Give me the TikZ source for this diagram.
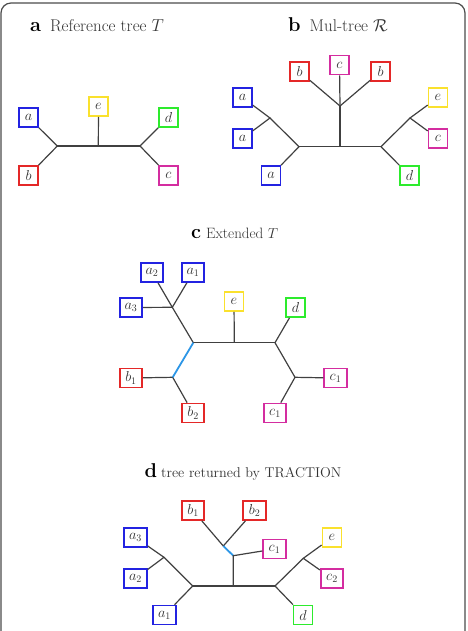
\documentclass[tikz,border=0pt]{standalone}
\usepackage{xcolor}
\definecolor{leafblue}{RGB}{35,35,225}
\definecolor{leafred}{RGB}{228,40,40}
\definecolor{leafyellow}{RGB}{250,225,45}
\definecolor{leafgreen}{RGB}{45,235,45}
\definecolor{leafmagenta}{RGB}{212,45,160}
\definecolor{edgeblue}{RGB}{45,150,230}

\begin{document}
\begin{tikzpicture}[
  x=1pt,y=-1pt,
  frame/.style={draw=black!70,line width=1.2pt,rounded corners=10pt},
  title/.style={anchor=base west,inner sep=0pt,text=black!80},
  leaf/.style={draw=#1,line width=1.7pt,fill=white,minimum size=19pt,inner sep=0.5pt,
    text=black!80,font=\fontsize{14}{16}\selectfont},
  wide leaf/.style={leaf=#1,minimum width=22.5pt},
  branch/.style={draw=black!75,line width=1.2pt},
  moved branch/.style={branch,draw=edgeblue,line width=1.8pt}
]
\useasboundingbox (0,0) rectangle (467,631);
\begin{scope}
\clip (0,0) rectangle (467,631);
\draw[frame] (1,3) rectangle (465,660);
\end{scope}

% a: reference tree
\node[title,font=\fontsize{17}{20}\selectfont] (titleA) at (30,32)
  {\textcolor{black}{\fontsize{20}{24}\selectfont\bfseries a}\hspace{9pt}Reference tree $T$};
\coordinate (A-l) at (57.3,146);
\coordinate (A-m) at (98.3,146);
\coordinate (A-r) at (140,146);
\node[leaf=leafblue] (A-a) at (28.5,117.5) {$a$};
\node[leaf=leafred] (A-b) at (28.5,175.5) {$b$};
\node[leaf=leafyellow] (A-e) at (98.5,106.5) {$e$};
\node[leaf=leafgreen] (A-d) at (168.5,117.5) {$d$};
\node[leaf=leafmagenta] (A-c) at (168.5,175.5) {$c$};
\draw[branch] (A-a) -- (A-l) -- (A-b);
\draw[branch] (A-l) -- (A-r);
\draw[branch] (A-m) -- (A-e);
\draw[branch] (A-d) -- (A-r) -- (A-c);

% b: mul-tree
\node[title,font=\fontsize{17}{20}\selectfont] (titleB) at (288,32)
  {\textcolor{black}{\fontsize{20}{24}\selectfont\bfseries b}\hspace{9pt}Mul-tree $\mathcal{R}$};
\coordinate (B-t) at (340,106);
\coordinate (B-lu) at (270,118);
\coordinate (B-l) at (299,146.7);
\coordinate (B-m) at (340,146.7);
\coordinate (B-r) at (381,146.7);
\coordinate (B-ru) at (410,118);
\node[leaf=leafred] (B-b1) at (299.5,71.5) {$b$};
\node[leaf=leafmagenta] (B-c1) at (339.5,65) {$c$};
\node[leaf=leafred] (B-b2) at (380.5,71.5) {$b$};
\node[leaf=leafblue] (B-a1) at (242.5,97.5) {$a$};
\node[leaf=leafblue] (B-a2) at (242.5,138.5) {$a$};
\node[leaf=leafblue] (B-a3) at (271,175.5) {$a$};
\node[leaf=leafyellow] (B-e) at (438,97.5) {$e$};
\node[leaf=leafmagenta] (B-c2) at (438,138.5) {$c$};
\node[leaf=leafgreen] (B-d) at (409.5,175.5) {$d$};
\draw[branch] (B-a1) -- (B-lu) -- (B-a2);
\draw[branch] (B-lu) -- (B-l) -- (B-a3);
\draw[branch] (B-l) -- (B-r);
\draw[branch] (B-m) -- (B-t);
\draw[branch] (B-b1) -- (B-t) -- (B-b2);
\draw[branch] (B-t) -- (B-c1);
\draw[branch] (B-r) -- (B-ru);
\draw[branch] (B-e) -- (B-ru) -- (B-c2);
\draw[branch] (B-r) -- (B-d);

% c: extended tree
\node[title,font=\fontsize{15}{18}\selectfont] (titleC) at (191,238)
  {\textcolor{black}{\fontsize{20}{24}\selectfont\bfseries c}\hspace{5pt}Extended $T$};
\coordinate (C-ia) at (172.3,307.3);
\coordinate (C-l) at (193.3,342.7);
\coordinate (C-m) at (234.3,342.7);
\coordinate (C-r) at (275,342.7);
\coordinate (C-ib) at (172.7,377.3);
\coordinate (C-ic) at (295,377.3);
\node[wide leaf=leafblue] (C-a2) at (152,272.5) {$a_2$};
\node[wide leaf=leafblue] (C-a1) at (193,272.5) {$a_1$};
\node[wide leaf=leafblue] (C-a3) at (131,307.5) {$a_3$};
\node[leaf=leafyellow] (C-e) at (234,301.5) {$e$};
\node[leaf=leafgreen] (C-d) at (295.5,307.5) {$d$};
\node[wide leaf=leafred] (C-b1) at (131,378) {$b_1$};
\node[wide leaf=leafred] (C-b2) at (193,413) {$b_2$};
\node[wide leaf=leafmagenta] (C-c1) at (335.5,378) {$c_1$};
\node[wide leaf=leafmagenta] (C-c2) at (275,413) {$c_1$};
\draw[branch] (C-a2) -- (C-ia) -- (C-a1);
\draw[branch] (C-a3) -- (C-ia) -- (C-l);
\draw[branch] (C-l) -- (C-r);
\draw[branch] (C-m) -- (C-e);
\draw[branch] (C-r) -- (C-d);
\draw[branch] (C-r) -- (C-ic) -- (C-c1);
\draw[branch] (C-ic) -- (C-c2);
\draw[branch] (C-b1) -- (C-ib) -- (C-b2);
\draw[moved branch] (C-l) -- (C-ib);

% d: tree returned by TRACTION
\node[title,font=\fontsize{14.2}{17}\selectfont] (titleD) at (144.5,477)
  {\textcolor{black}{\fontsize{20}{24}\selectfont\bfseries d}\hspace{4pt}tree returned by TRACTION};
\coordinate (D-ib) at (223.3,546);
\coordinate (D-ic) at (233.3,555.7);
\coordinate (D-m) at (233.3,586);
\coordinate (D-l) at (192.7,586);
\coordinate (D-r) at (275,586);
\coordinate (D-ia) at (164,557.3);
\coordinate (D-ie) at (303.3,558.3);
\node[wide leaf=leafred] (D-b1) at (193,510.5) {$b_1$};
\node[wide leaf=leafred] (D-b2) at (254.5,510.5) {$b_2$};
\node[wide leaf=leafmagenta] (D-c1) at (274.5,549) {$c_1$};
\node[wide leaf=leafblue] (D-a3) at (135.5,537.5) {$a_3$};
\node[wide leaf=leafblue] (D-a2) at (135.5,578.5) {$a_2$};
\node[wide leaf=leafblue] (D-a1) at (164.5,615) {$a_1$};
\node[leaf=leafyellow] (D-e) at (332,537.5) {$e$};
\node[wide leaf=leafmagenta] (D-c2) at (332,578.5) {$c_2$};
\node[leaf=leafgreen] (D-d) at (303,615) {$d$};
\draw[branch] (D-b1) -- (D-ib) -- (D-b2);
\draw[moved branch] (D-ib) -- (D-ic);
\draw[branch] (D-c1) -- (D-ic) -- (D-m);
\draw[branch] (D-l) -- (D-r);
\draw[branch] (D-a3) -- (D-ia) -- (D-a2);
\draw[branch] (D-ia) -- (D-l) -- (D-a1);
\draw[branch] (D-r) -- (D-ie);
\draw[branch] (D-e) -- (D-ie) -- (D-c2);
\draw[branch] (D-r) -- (D-d);
\end{tikzpicture}
\end{document}
